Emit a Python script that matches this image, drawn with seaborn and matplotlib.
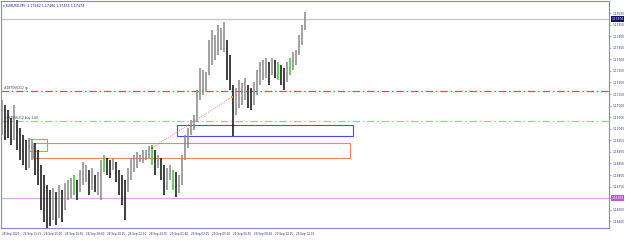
import numpy as np
import pandas as pd
import matplotlib
matplotlib.use("Agg")
import matplotlib.pyplot as plt
import seaborn as sns
from matplotlib.patches import Rectangle

# ---------------- data ----------------
highs = [1.17124, 1.17103, 1.17081, 1.17046, 1.17103, 1.17038, 1.17003, 1.16973, 1.16951, 1.16960,
         1.16951, 1.16938, 1.16908, 1.16843, 1.16800, 1.16757, 1.16736, 1.16744, 1.16727, 1.16757,
         1.16736, 1.16766, 1.16779, 1.16787, 1.16800, 1.16779, 1.16822, 1.16856, 1.16843, 1.16822,
         1.16830, 1.16800, 1.16813, 1.16865, 1.16887, 1.16874, 1.16865, 1.16874, 1.16856, 1.16822,
         1.16800, 1.16779, 1.16830, 1.16874, 1.16887, 1.16899, 1.16887, 1.16908, 1.16908, 1.16925,
         1.16930, 1.16908, 1.16887, 1.16874, 1.16843, 1.16830, 1.16843, 1.16822, 1.16813, 1.16800,
         1.16887, 1.16973, 1.17003, 1.17038, 1.17059, 1.17167, 1.17262, 1.17254, 1.17245, 1.17383,
         1.17427, 1.17405, 1.17448, 1.17435, 1.17461, 1.17383, 1.17319, 1.17189, 1.17176, 1.17211,
         1.17198, 1.17219, 1.17189, 1.17176, 1.17202, 1.17254, 1.17288, 1.17297, 1.17306, 1.17288,
         1.17306, 1.17297, 1.17288, 1.17275, 1.17262, 1.17288, 1.17306, 1.17332, 1.17340, 1.17405,
         1.17448, 1.17504]
lows = [1.16973, 1.16951, 1.16960, 1.16930, 1.16951, 1.16908, 1.16865, 1.16843, 1.16822, 1.16830,
        1.16865, 1.16800, 1.16757, 1.16649, 1.16597, 1.16571, 1.16580, 1.16606, 1.16585, 1.16615,
        1.16597, 1.16649, 1.16692, 1.16701, 1.16714, 1.16692, 1.16727, 1.16757, 1.16770, 1.16714,
        1.16736, 1.16727, 1.16714, 1.16692, 1.16813, 1.16800, 1.16787, 1.16822, 1.16770, 1.16714,
        1.16671, 1.16606, 1.16727, 1.16779, 1.16813, 1.16830, 1.16856, 1.16852, 1.16865, 1.16874,
        1.16843, 1.16800, 1.16830, 1.16779, 1.16714, 1.16736, 1.16779, 1.16736, 1.16706, 1.16723,
        1.16757, 1.16865, 1.16917, 1.16973, 1.16995, 1.17029, 1.17124, 1.17146, 1.17159, 1.17232,
        1.17275, 1.17297, 1.17319, 1.17340, 1.17332, 1.17211, 1.17167, 1.16969, 1.17059, 1.17090,
        1.17103, 1.17124, 1.17090, 1.17081, 1.17103, 1.17146, 1.17189, 1.17211, 1.17219, 1.17189,
        1.17232, 1.17219, 1.17211, 1.17189, 1.17167, 1.17202, 1.17232, 1.17254, 1.17275, 1.17319,
        1.17362, 1.17427]
green_bars = [24, 34, 50, 57, 92, 96]

time_labels = ["28 Sep 2020", "28 Sep 13:25", "28 Sep 15:10", "28 Sep 16:55", "28 Sep 18:40",
               "28 Sep 20:25", "28 Sep 22:10", "28 Sep 23:55", "29 Sep 01:40", "29 Sep 03:25",
               "29 Sep 05:10", "29 Sep 06:55", "29 Sep 08:40", "29 Sep 10:25", "29 Sep 12:10"]
time_label_bars = [0, 7, 14, 21, 28, 35, 42, 49, 56, 63, 70, 77, 84, 91, 98]

price_ticks = [1.17500, 1.17450, 1.17400, 1.17350, 1.17300, 1.17250, 1.17200, 1.17150, 1.17100,
               1.17050, 1.17000, 1.16950, 1.16900, 1.16850, 1.16800, 1.16750, 1.16700, 1.16650,
               1.16600]

bid_price = 1.17474
tp_price = 1.17163
entry_price = 1.17033
alert_price = 1.16700
order_ticket = "#287566312"
title_text = "\u25be EURUSD,M5  1.17462 1.17480 1.17455 1.17474"

# zones: (start bar, end bar, low price, high price)
blue_zone = (58.3, 117.0, 1.16969, 1.17016)
orange_zone = (10.3, 116.0, 1.16874, 1.16938)
orange_small = (9.0, 15.0, 1.16904, 1.16955)
trend_bars = [50.0, 76.7]
trend_prices = [1.16917, 1.17137]

# ---------------- figure ----------------
sns.set_theme(style="white")
plt.rcParams["font.family"] = ["DejaVu Sans"]

W, H = 625, 243
fig = plt.figure(figsize=(W / 100, H / 100), dpi=100)
fig.patch.set_facecolor("white")
ax = fig.add_axes([1 / W, (243 - 228) / H, 608 / W, 227 / H])
ax.set_facecolor("white")

df = pd.DataFrame({"bar": np.arange(len(highs)), "high": highs, "low": lows})
df["mid"] = (df["high"] + df["low"]) / 2
df["up"] = df["mid"].diff().fillna(0) >= 0
colors = np.where(df["up"], "#8c8c8c", "#151515").astype(object)
for b in green_bars:
    colors[b] = "#3cc83c"
df["color"] = colors

# horizontal levels
ax.axhline(bid_price, color="#c4c4cc", lw=0.9, zorder=1)
ax.axhline(tp_price, color="#f04848", lw=0.9, ls=(0, (6, 2.2, 1.3, 2.2)), zorder=1)
ax.axhline(entry_price, color="#88dd88", lw=0.9, ls=(0, (6, 2.2, 1.3, 2.2)), zorder=1)
ax.axhline(alert_price, color="#dfa6e6", lw=0.9, zorder=1)

# zones
for (x0, x1, p0, p1), ec in [(blue_zone, "#4a4aee"), (orange_zone, "#f2875a"), (orange_small, "#f2875a")]:
    ax.add_patch(Rectangle((x0, p0), x1 - x0, p1 - p0, fill=False, ec=ec, lw=0.8, zorder=2))

# price bars
ax.vlines(df["bar"], df["low"], df["high"], colors=df["color"], lw=1.15, zorder=3)

# trend line
ax.plot(trend_bars, trend_prices, color="#f08080", lw=0.7, ls=(0, (1, 1.2)), zorder=4)
ax.plot(trend_bars[0], trend_prices[0], marker="s", ms=1.5, color="#e03030", mew=0, zorder=5)
ax.plot(trend_bars[1], trend_prices[1], marker="s", ms=1.5, color="#f0a020", mew=0, zorder=5)

ax.set_xlim(-0.33, 202.3)
ax.set_ylim(1.16571, 1.17552)

# axes styling
for s in ax.spines.values():
    s.set_color("#8888d8")
    s.set_linewidth(0.8)

ax.yaxis.tick_right()
ax.set_yticks(price_ticks)
ax.set_yticklabels([f"{p:.5f}" for p in price_ticks])
ax.tick_params(axis="y", direction="out", length=1.5, width=0.5, colors="#8888d8",
               labelcolor="#30307a", labelsize=2.1, pad=0.8)
ax.set_xticks(time_label_bars)
ax.set_xticklabels(time_labels, ha="left")
ax.tick_params(axis="x", direction="out", length=1.5, width=0.5, colors="#8888d8",
               labelcolor="#30307a", labelsize=2.0, pad=1.5)
ax.grid(False)

# price labels on the scale
lbl_kw = dict(transform=ax.get_yaxis_transform(), fontsize=2.1, va="center", ha="left", clip_on=False)
ax.text(1.004, bid_price, f"{bid_price:.5f}", color="white",
        bbox=dict(boxstyle="square,pad=0.25", fc="#101070", ec="none"), **lbl_kw)
ax.text(1.004, alert_price, f"{alert_price:.5f}", color="white",
        bbox=dict(boxstyle="square,pad=0.25", fc="#b860c8", ec="none"), **lbl_kw)

# order line captions
ax.text(0.6, tp_price + 0.00004, f"{order_ticket} tp", fontsize=2.2, color="#303070", va="bottom", ha="left")
ax.text(0.6, entry_price + 0.00004, f"{order_ticket} buy 1.00", fontsize=2.2, color="#303070",
        va="bottom", ha="left")

# title
ax.text(0.004, 0.985, title_text, transform=ax.transAxes, fontsize=2.3, color="#202070",
        va="top", ha="left")

fig.savefig("out.png", dpi=100)
